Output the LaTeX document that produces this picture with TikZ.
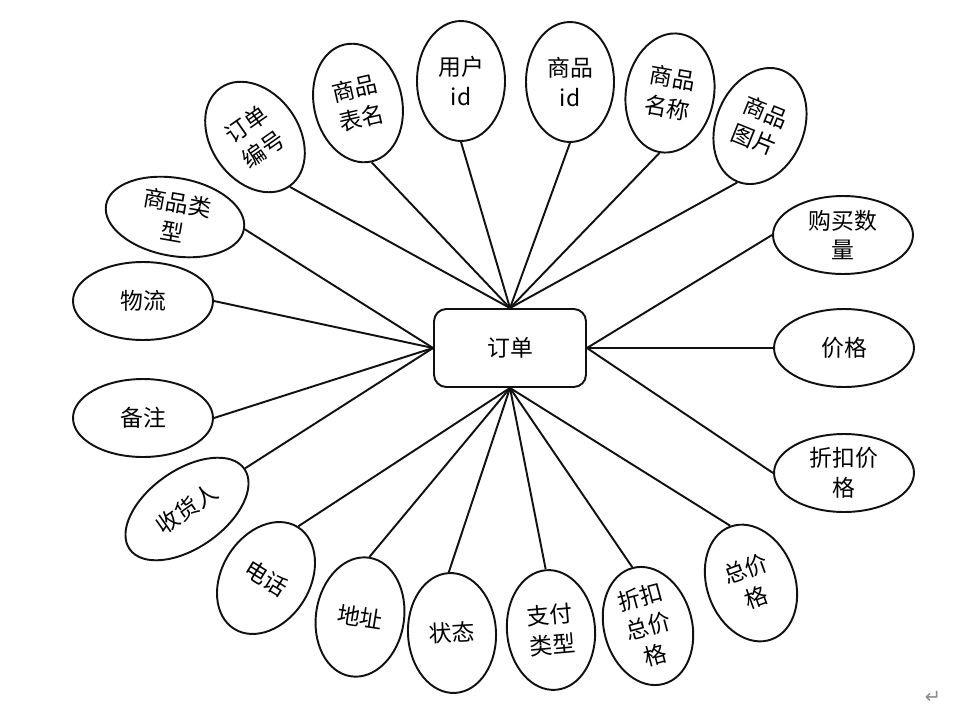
\documentclass[tikz,border=0pt]{standalone}
\usepackage{fontspec}
\usepackage{xcolor}
\usepackage{tikz}
\usetikzlibrary{shapes.geometric}
\newfontfamily\cjk{Noto Sans CJK SC}
\newfontfamily\symfont{DejaVu Sans}
\definecolor{edgeblack}{HTML}{111111}
\definecolor{markgray}{HTML}{8A8A8A}

\begin{document}
\begin{tikzpicture}[
  x=0.02cm, y=-0.02cm,
  every node/.style={font=\cjk\fontsize{13}{17}\selectfont, text=black},
  entitybox/.style={draw=edgeblack, line width=1.1pt, rounded corners=7pt, minimum width=3.04cm, minimum height=1.56cm, inner sep=0pt},
  attrtall/.style={ellipse, draw=edgeblack, line width=1.1pt, minimum width=1.76cm, minimum height=2.4cm, inner sep=0pt, align=center},
  attrwide/.style={ellipse, draw=edgeblack, line width=1.1pt, minimum width=2.8cm, minimum height=1.56cm, inner sep=0pt, align=center},
  link/.style={draw=edgeblack, line width=1.1pt}
]
\useasboundingbox (0,0) rectangle (971,714);

\node[entitybox] (dingdan) at (510,348) {订单};

% top
\node[attrtall, rotate=35] (bianhao) at (255,137) {订单\\编号};
\node[attrtall, rotate=13] (biaoming) at (358,103) {商品\\表名};
\node[attrtall] (yonghuid) at (461,81) {用户\\id};
\node[attrtall] (shangpinid) at (570,82) {商品\\id};
\node[attrtall, rotate=-10] (mingcheng) at (670,93) {商品\\名称};
\node[attrtall, rotate=-22] (tupian) at (760,126) {商品\\图片};

% right
\node[attrwide] (goumai) at (843,235) {购买数\\量};
\node[attrwide] (jiage) at (844,348) {价格};
\node[attrwide] (zhekoujia) at (844,473) {折扣价\\格};

% bottom
\node[attrtall, rotate=20] (zongjia) at (751,583) {总价\\格};
\node[attrtall, rotate=15] (zhekouzong) at (648,626) {折扣\\总价\\格};
\node[attrtall, rotate=5] (zhifu) at (551,630) {支付\\类型};
\node[attrtall, rotate=3] (zhuangtai) at (452,633) {状态};
\node[attrtall, rotate=-9] (dizhi) at (360,617) {地址};
\node[attrtall, rotate=-32] (dianhua) at (266,578) {电话};

% left
\node[attrwide, rotate=35] (shouhuoren) at (187,509) {收货人};
\node[attrwide] (beizhu) at (143,418) {备注};
\node[attrwide] (wuliu) at (143,301) {物流};
\node[attrwide, rotate=-10] (leixing) at (175,217) {商品类\\型};

\draw[link] (bianhao.south) -- (dingdan.north);
\draw[link] (biaoming.south) -- (dingdan.north);
\draw[link] (yonghuid.south) -- (dingdan.north);
\draw[link] (shangpinid.south) -- (dingdan.north);
\draw[link] (mingcheng.south) -- (dingdan.north);
\draw[link] (tupian.south) -- (dingdan.north);

\draw[link] (goumai.west) -- (dingdan.east);
\draw[link] (jiage.west) -- (dingdan.east);
\draw[link] (zhekoujia.west) -- (dingdan.east);

\draw[link] (zongjia.north) -- (dingdan.south);
\draw[link] (zhekouzong.north) -- (dingdan.south);
\draw[link] (zhifu.north) -- (dingdan.south);
\draw[link] (zhuangtai.north) -- (dingdan.south);
\draw[link] (dizhi.north) -- (dingdan.south);
\draw[link] (dianhua.north) -- (dingdan.south);

\draw[link] (shouhuoren.east) -- (dingdan.west);
\draw[link] (beizhu.east) -- (dingdan.west);
\draw[link] (wuliu.east) -- (dingdan.west);
\draw[link] (leixing.east) -- (dingdan.west);

\node[font=\symfont\fontsize{11}{11}\selectfont, text=markgray] (fanhui) at (933,697) {↵};
\end{tikzpicture}
\end{document}
